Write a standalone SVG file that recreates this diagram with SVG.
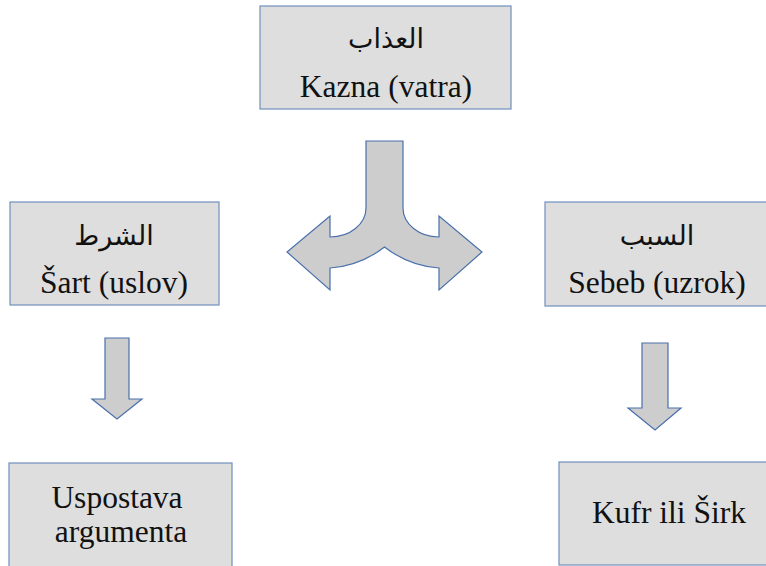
<svg xmlns="http://www.w3.org/2000/svg" width="766" height="566" viewBox="0 0 766 566">
<style>
.box{fill:#dedede;stroke:#6f8fbf;stroke-width:1.2}
.arr{fill:#cdcdcd;stroke:#4a70ac;stroke-width:1.2;stroke-linejoin:miter}
.lat{font-family:"Liberation Serif","Times New Roman",serif;font-size:31.5px;fill:#111;text-anchor:middle}
.ar{font-family:"DejaVu Sans","Noto Sans",sans-serif;font-size:27px;fill:#111;text-anchor:middle}
</style>
<rect width="766" height="566" fill="#ffffff"/>
<g id="connectors">
<path class="arr" d="M366,141 L403,141 L403,208 A36 29 0 0 0 439,237 L439,216 L482,252 L439,290 L439,268 Q409,266 384.5,247 Q360,266 330,268 L330,290 L287,252 L330,216 L330,237 A36 29 0 0 0 366,208 Z"/>
<path class="arr" d="M105,338 L129,338 L129,399 L142,399 L117,419 L92,399 L105,399 Z"/>
<path class="arr" d="M642,343 L668,343 L668,408 L681,408 L655,430 L628,408 L642,408 Z"/>
</g>
<g id="kazna">
<rect class="box" x="260" y="6" width="251" height="103"/>
<text class="ar" x="386" y="48" direction="rtl">العذاب</text>
<text class="lat" x="386" y="97">Kazna (vatra)</text>
</g>
<g id="sart">
<rect class="box" x="10" y="202" width="209" height="103"/>
<text class="ar" x="114" y="245" direction="rtl">الشرط</text>
<text class="lat" x="114" y="293">Šart (uslov)</text>
</g>
<g id="sebeb">
<rect class="box" x="545" y="202" width="226" height="104"/>
<text class="ar" x="657" y="245" direction="rtl">السبب</text>
<text class="lat" x="657" y="293">Sebeb (uzrok)</text>
</g>
<g id="uspostava">
<rect class="box" x="9" y="463" width="223" height="110"/>
<text class="lat" x="117" y="508">Uspostava</text>
<text class="lat" x="121" y="542">argumenta</text>
</g>
<g id="kufr">
<rect class="box" x="559" y="462" width="212" height="103"/>
<text class="lat" x="669" y="523">Kufr ili Širk</text>
</g>
</svg>
